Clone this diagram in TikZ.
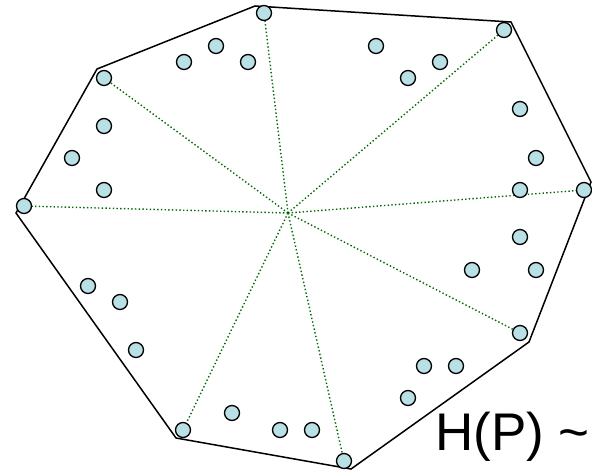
\documentclass[tikz,border=0pt]{standalone}
\usepackage{fontspec}
\setmainfont{Liberation Sans}
\definecolor{ptfill}{RGB}{185,224,228}
\definecolor{spoke}{RGB}{0,105,0}
\begin{document}
\begin{tikzpicture}[x=1pt,y=-1pt,
  pt/.style={circle,draw=black,fill=ptfill,line width=1.3pt,minimum size=15pt,inner sep=0pt},
  hull/.style={draw=black,line width=1.5pt,line join=miter},
  spk/.style={draw=spoke,line width=1.4pt,dash pattern=on 1.4pt off 2.3pt}]
\useasboundingbox (0,0) rectangle (592,471);
\clip (0,0) rectangle (592,471);
% hull vertices
\coordinate (v1) at (255,6);
\coordinate (v2) at (511,22);
\coordinate (v3) at (591,182);
\coordinate (v4) at (529,342);
\coordinate (v5) at (351,469);
\coordinate (v6) at (176,438);
\coordinate (v7) at (16,213);
\coordinate (v8) at (97,69);
\draw[hull] (v1) -- (v2) -- (v3) -- (v4) -- (v5) -- (v6) -- (v7) -- (v8) -- cycle;
\coordinate (c) at (288,213);
% hull points
\node[pt] (h1) at (264,13) {};
\node[pt] (h2) at (504,30) {};
\node[pt] (h3) at (584,190) {};
\node[pt] (h4) at (520,333) {};
\node[pt] (h5) at (344,461) {};
\node[pt] (h6) at (183,430) {};
\node[pt] (h7) at (24,206) {};
\node[pt] (h8) at (104,78) {};
\foreach \i in {1,...,8} \draw[spk] (c) -- (h\i);
% interior points
\node[pt] (q1) at (184,62) {};
\node[pt] (q2) at (216,46) {};
\node[pt] (q3) at (248,62) {};
\node[pt] (q4) at (104,126) {};
\node[pt] (q5) at (72,158) {};
\node[pt] (q6) at (104,190) {};
\node[pt] (q7) at (376,46) {};
\node[pt] (q8) at (408,78) {};
\node[pt] (q9) at (440,62) {};
\node[pt] (q10) at (520,109) {};
\node[pt] (q11) at (536,158) {};
\node[pt] (q12) at (520,190) {};
\node[pt] (q13) at (88,286) {};
\node[pt] (q14) at (120,302) {};
\node[pt] (q15) at (136,350) {};
\node[pt] (q16) at (232,413) {};
\node[pt] (q17) at (280,430) {};
\node[pt] (q18) at (520,237) {};
\node[pt] (q19) at (472,270) {};
\node[pt] (q20) at (536,270) {};
\node[pt] (q21) at (424,366) {};
\node[pt] (q22) at (456,366) {};
\node[pt] (q23) at (408,398) {};
\node[pt] (q24) at (312,430) {};
\node[anchor=base west,inner sep=0pt,font=\fontsize{53}{60}\selectfont] (lbl) at (435,450) {H(P) \char`\~};
\end{tikzpicture}
\end{document}
